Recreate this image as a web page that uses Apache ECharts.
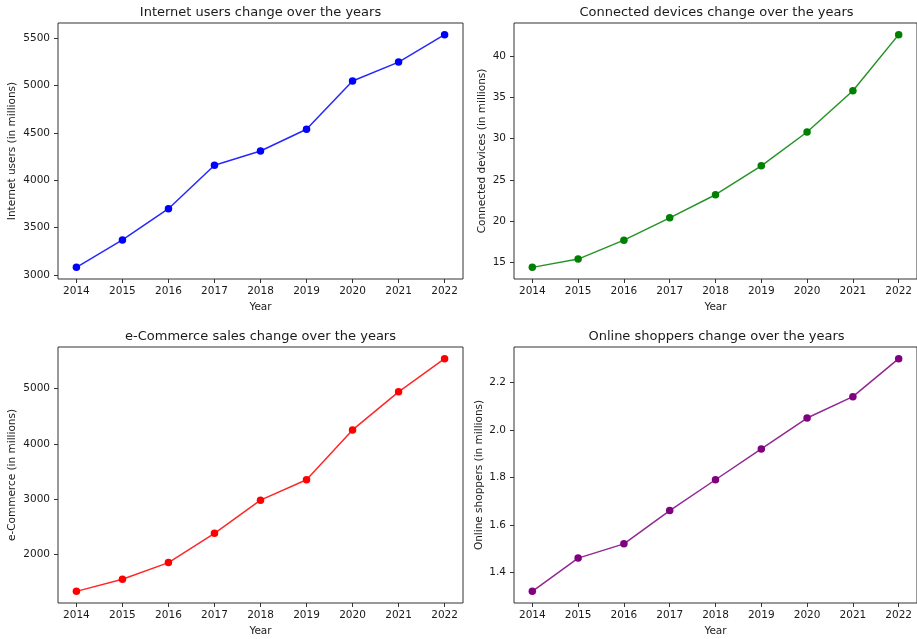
<!DOCTYPE html>
<html>
<head>
<meta charset="utf-8">
<script src="https://cdn.jsdelivr.net/npm/echarts@6.0.0/dist/echarts.min.js"></script>
<style>
  html, body { margin: 0; padding: 0; background: #fff; }
  #main { width: 917px; height: 639px; }
</style>
</head>
<body>
<div id="main"></div>
<script>
// data
const years = [2014, 2015, 2016, 2017, 2018, 2019, 2020, 2021, 2022];
const internetUsers = [3080, 3370, 3700, 4160, 4310, 4540, 5050, 5250, 5540];
const connectedDevices = [14.4, 15.4, 17.7, 20.4, 23.2, 26.7, 30.8, 35.8, 42.6];
const eCommerce = [1330, 1550, 1850, 2380, 2980, 3350, 4250, 4940, 5540];
const onlineShoppers = [1.32, 1.46, 1.52, 1.66, 1.79, 1.92, 2.05, 2.14, 2.30];

// tick labels
const usersTicks = [3000, 3500, 4000, 4500, 5000, 5500];
const devicesTicks = [15, 20, 25, 30, 35, 40];
const commerceTicks = [2000, 3000, 4000, 5000];
const shoppersTicks = [1.4, 1.6, 1.8, 2.0, 2.2];

const font = 'DejaVu Sans';
const ink = '#1a1a1a';
const spine = '#333';

// matplotlib style 5% margins
function padded(arr) {
  const lo = Math.min(...arr), hi = Math.max(...arr);
  const m = (hi - lo) * 0.05;
  return [lo - m, hi + m];
}

const panels = [
  { title: 'Internet users change over the years', ylabel: 'Internet users (in millions)',
    values: internetUsers, ticks: usersTicks, color: '#0000ff',
    grid: { left: 58, top: 23, width: 405, height: 256 }, nameGap: 40, fmt: v => String(v) },
  { title: 'Connected devices change over the years', ylabel: 'Connected devices (in millions)',
    values: connectedDevices, ticks: devicesTicks, color: '#008000',
    grid: { left: 514, top: 23, width: 405, height: 256 }, nameGap: 26, fmt: v => String(v) },
  { title: 'e-Commerce sales change over the years', ylabel: 'e-Commerce (in millions)',
    values: eCommerce, ticks: commerceTicks, color: '#ff0000',
    grid: { left: 58, top: 347, width: 405, height: 256 }, nameGap: 40, fmt: v => String(v) },
  { title: 'Online shoppers change over the years', ylabel: 'Online shoppers (in millions)',
    values: onlineShoppers, ticks: shoppersTicks, color: '#800080',
    grid: { left: 514, top: 347, width: 405, height: 256 }, nameGap: 29, fmt: v => v.toFixed(1) }
];

const xr = padded(years);

const option = {
  animation: false,
  backgroundColor: '#fff',
  title: panels.map(p => ({
    text: p.title,
    left: p.grid.left + p.grid.width / 2,
    top: p.grid.top - 17,
    textAlign: 'center',
    padding: 0,
    textStyle: { fontFamily: font, fontSize: 13, fontWeight: 'normal', color: ink }
  })),
  grid: panels.map(p => Object.assign({
    show: true, borderColor: spine, borderWidth: 1, backgroundColor: 'transparent', containLabel: false
  }, p.grid)),
  xAxis: panels.map((p, i) => ({
    type: 'value',
    gridIndex: i,
    min: xr[0],
    max: xr[1],
    name: 'Year',
    nameLocation: 'middle',
    nameGap: 23,
    nameTextStyle: { fontFamily: font, fontSize: 10.5, color: ink },
    axisLine: { show: false },
    axisTick: { show: true, length: 4, customValues: years, lineStyle: { color: spine } },
    axisLabel: { customValues: years, margin: 7, formatter: v => String(v),
      fontFamily: font, fontSize: 10.5, color: ink },
    splitLine: { show: false }
  })),
  yAxis: panels.map((p, i) => {
    const r = padded(p.values);
    return {
      type: 'value',
      gridIndex: i,
      min: r[0],
      max: r[1],
      name: p.ylabel,
      nameLocation: 'middle',
      nameGap: p.nameGap,
      nameTextStyle: { fontFamily: font, fontSize: 10.5, color: ink },
      axisLine: { show: false },
      axisTick: { show: true, length: 4, customValues: p.ticks, lineStyle: { color: spine } },
      axisLabel: { customValues: p.ticks, margin: 8, formatter: p.fmt,
        fontFamily: font, fontSize: 10.5, color: ink },
      splitLine: { show: false }
    };
  }),
  series: panels.map((p, i) => ({
    type: 'line',
    xAxisIndex: i,
    yAxisIndex: i,
    data: years.map((y, k) => [y, p.values[k]]),
    symbol: 'circle',
    symbolSize: 7.5,
    showSymbol: true,
    itemStyle: { color: p.color },
    lineStyle: { color: p.color, width: 1.5, opacity: 0.85 }
  }))
};

const chart = echarts.init(document.getElementById('main'), null, { renderer: 'canvas' });
chart.setOption(option);
window.onresize = chart.resize;
</script>
</body>
</html>
